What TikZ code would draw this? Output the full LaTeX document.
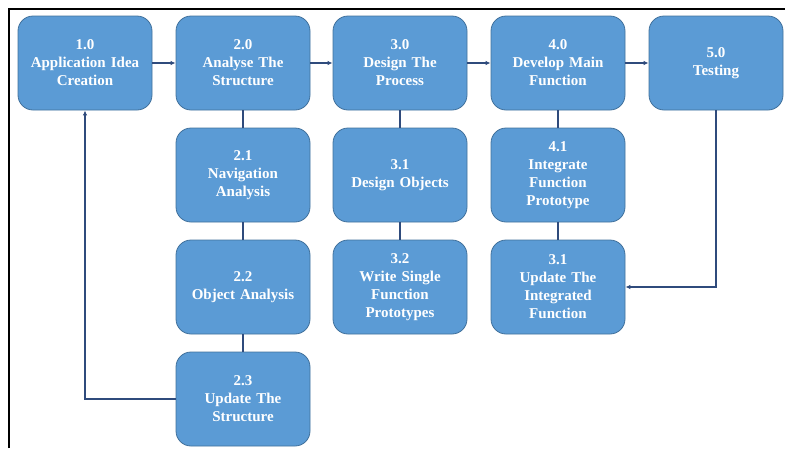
\documentclass[tikz,border=0pt]{standalone}
\usepackage{fontspec}
\setmainfont{Liberation Serif}
\usetikzlibrary{arrows.meta}
\definecolor{boxblue}{HTML}{5B9BD5}
\definecolor{boxedge}{HTML}{41719C}
\definecolor{linenavy}{HTML}{2F4B7C}
\begin{document}
\begin{tikzpicture}[x=1pt,y=-1pt,
  task/.style={draw=boxedge,line width=0.8pt,fill=boxblue,rounded corners=15pt,
    minimum width=134pt,minimum height=94pt,text width=126pt,align=center,
    text=white,font=\bfseries\fontsize{15}{18}\selectfont},
  link/.style={draw=linenavy,line width=1.5pt},
  flow/.style={link,-{Latex[length=5pt,width=4.5pt]}}]
\useasboundingbox (0,0) rectangle (785,448);
\draw[line width=2pt] (9,448) -- (9,9) -- (785,9);

\node[task] (idea) at (85,63) {1.0\\Application Idea\\Creation};
\node[task] (analyse) at (243,63) {2.0\\Analyse The\\Structure};
\node[task] (design) at (400,63) {3.0\\Design The\\Process};
\node[task] (develop) at (558,63) {4.0\\Develop Main\\Function};
\node[task] (testing) at (716,63) {5.0\\Testing};

\node[task] (navan) at (243,175) {2.1\\Navigation\\Analysis};
\node[task] (objan) at (243,287) {2.2\\Object Analysis};
\node[task] (upstruct) at (243,399) {2.3\\Update The\\Structure};

\node[task] (objects) at (400,175) {3.1\\Design Objects};
\node[task] (single) at (400,287) {3.2\\Write Single\\Function\\Prototypes};

\node[task] (integrate) at (558,175) {4.1\\Integrate\\Function\\Prototype};
\node[task] (upint) at (558,287) {3.1\\Update The\\Integrated\\Function};

% main flow
\draw[flow] (idea) -- (analyse);
\draw[flow] (analyse) -- (design);
\draw[flow] (design) -- (develop);
\draw[flow] (develop) -- (testing);

% sub steps
\draw[link] (analyse) -- (navan);
\draw[link] (navan) -- (objan);
\draw[link] (objan) -- (upstruct);
\draw[link] (design) -- (objects);
\draw[link] (objects) -- (single);
\draw[link] (develop) -- (integrate);
\draw[link] (integrate) -- (upint);

% feedback
\draw[flow] (upstruct.west) -| (idea.south);
\draw[flow] (testing.south) |- (upint.east);
\end{tikzpicture}
\end{document}
